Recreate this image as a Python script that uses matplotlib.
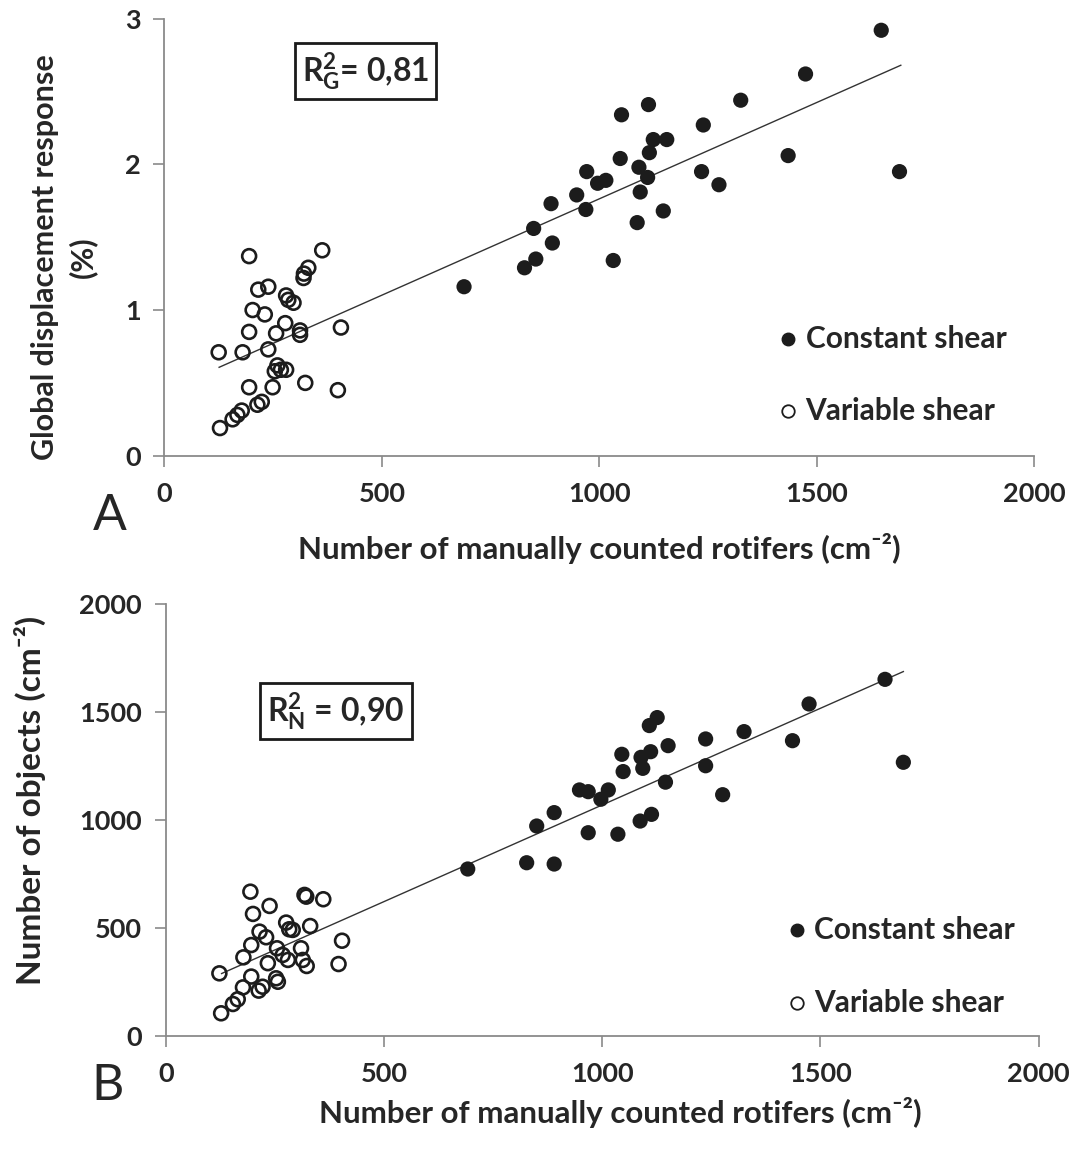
import matplotlib
matplotlib.use("Agg")
import matplotlib.pyplot as plt

plt.rcParams['font.family'] = ['Lato', 'DejaVu Sans']
plt.rcParams['mathtext.fontset'] = 'custom'
plt.rcParams['mathtext.rm'] = 'Lato'
plt.rcParams['mathtext.bf'] = 'Lato:bold'
plt.rcParams['mathtext.it'] = 'Lato:italic'

# ---------------- Panel A data ----------------
a_const_x = [1648, 1474, 1325, 1113, 1051, 1239, 1155, 1124, 1115, 1048, 1434, 1091, 1111, 1235,
             971, 1015, 996, 1275, 1690, 948, 889, 1094, 969, 1147, 1087, 849, 892, 854, 1032, 828, 689]
a_const_y = [2.92, 2.62, 2.44, 2.41, 2.34, 2.27, 2.17, 2.17, 2.08, 2.04, 2.06, 1.98, 1.91, 1.95,
             1.95, 1.89, 1.87, 1.86, 1.95, 1.79, 1.73, 1.81, 1.69, 1.68, 1.60, 1.56, 1.46, 1.35, 1.34, 1.29, 1.16]
a_var_x = [195, 363, 331, 321, 320, 239, 216, 280, 285, 297, 203, 231, 278, 195, 257, 312, 312, 406,
           125, 180, 239, 260, 268, 280, 254, 324, 195, 249, 399, 224, 214, 178, 168, 157, 128]
a_var_y = [1.37, 1.41, 1.29, 1.25, 1.22, 1.16, 1.14, 1.10, 1.07, 1.05, 1.00, 0.97, 0.91, 0.85, 0.84, 0.86, 0.83, 0.88,
           0.71, 0.71, 0.73, 0.62, 0.59, 0.59, 0.58, 0.50, 0.47, 0.47, 0.45, 0.37, 0.35, 0.31, 0.28, 0.25, 0.19]
a_trend_x = [126, 1693]
a_trend_y = [0.607, 2.68]

# ---------------- Panel B data ----------------
b_const_x = [1648, 1474, 1325, 1436, 1690, 1237, 1237, 1126, 1108, 1151, 1111, 1089, 1093, 1045, 1048,
             1145, 1276, 948, 968, 1014, 997, 890, 850, 1113, 1087, 968, 1036, 692, 827, 890]
b_const_y = [1651, 1537, 1409, 1367, 1267, 1375, 1251, 1474, 1437, 1344, 1316, 1290, 1239, 1304, 1224,
             1175, 1117, 1139, 1131, 1139, 1096, 1034, 972, 1026, 995, 941, 934, 773, 802, 796]
b_var_x = [194, 318, 322, 361, 238, 200, 276, 283, 291, 331, 215, 230, 404, 196, 255, 310, 268, 178,
           280, 314, 323, 234, 396, 123, 196, 253, 257, 177, 222, 213, 165, 154, 127]
b_var_y = [668, 653, 645, 633, 602, 565, 525, 494, 491, 509, 483, 457, 441, 421, 406, 406, 375, 364,
           352, 352, 324, 337, 333, 290, 275, 267, 251, 225, 228, 210, 170, 148, 105]
b_trend_x = [128, 1690]
b_trend_y = [289, 1687]

a_xticks = [0, 500, 1000, 1500, 2000]
a_yticks = [0, 1, 2, 3]
b_xticks = [0, 500, 1000, 1500, 2000]
b_yticks = [0, 500, 1000, 1500, 2000]

TXT = '#262626'
SPINE = '#8a8a8a'
DOT = '#1c1c1c'

fig = plt.figure(figsize=(10.76, 11.57), dpi=100)
axA = fig.add_axes([0.1527, 0.6061, 0.8086, 0.3778])
axB = fig.add_axes([0.1540, 0.1046, 0.8113, 0.3734])


def style(ax, xt, yt, ylim):
    ax.set_xlim(0, 2000)
    ax.set_ylim(*ylim)
    ax.set_xticks(xt)
    ax.set_yticks(yt)
    for s in ['top', 'right']:
        ax.spines[s].set_visible(False)
    for s in ['left', 'bottom']:
        ax.spines[s].set_color(SPINE)
        ax.spines[s].set_linewidth(1.3)
    ax.tick_params(axis='both', direction='out', length=8, width=1.2, color=SPINE,
                   labelsize=19.5, labelcolor=TXT)
    ax.tick_params(axis='x', pad=11)
    ax.tick_params(axis='y', pad=9)
    for lab in ax.get_xticklabels() + ax.get_yticklabels():
        lab.set_fontweight('bold')


def panel(ax, cx, cy, vx, vy, tx, ty, lx, ly):
    ax.plot(tx, ty, color='#333333', lw=1.0, zorder=1)
    ax.scatter(vx, vy, s=100, facecolors='none', edgecolors=DOT, linewidths=1.9, zorder=2)
    ax.scatter(cx, cy, s=120, color=DOT, edgecolors='none', zorder=3)
    # legend
    ax.plot([lx], [ly[0]], 'o', ms=9, color=DOT, transform=ax.transAxes, clip_on=False)
    ax.plot([lx], [ly[1]], 'o', ms=9, mfc='white', mec=DOT, mew=1.3,
            transform=ax.transAxes, clip_on=False)
    ax.text(lx + 0.02, ly[0], 'Constant shear', transform=ax.transAxes, fontsize=21.5,
            fontweight='bold', color=TXT, va='center', ha='left')
    ax.text(lx + 0.02, ly[1], 'Variable shear', transform=ax.transAxes, fontsize=21.5,
            fontweight='bold', color=TXT, va='center', ha='left')


style(axA, a_xticks, a_yticks, (0, 3))
style(axB, b_xticks, b_yticks, (0, 2000))
panel(axA, a_const_x, a_const_y, a_var_x, a_var_y, a_trend_x, a_trend_y, 0.717, (0.267, 0.102))
panel(axB, b_const_x, b_const_y, b_var_x, b_var_y, b_trend_x, b_trend_y, 0.723, (0.245, 0.076))

box = dict(boxstyle='square,pad=0.22', fc='white', ec='#1a1a1a', lw=2)
axA.text(0.231, 0.880, r'$\mathbf{R^2_G}$= 0,81', transform=axA.transAxes, fontsize=23,
         fontweight='bold', color=TXT, ha='center', va='center', bbox=box)
axB.text(0.195, 0.752, r'$\mathbf{R^2_N}$ = 0,90', transform=axB.transAxes, fontsize=23,
         fontweight='bold', color=TXT, ha='center', va='center', bbox=box)

W, H = 1076, 1157
fig.text(64 / W, 1 - 257 / H, 'Global displacement response\n(%)', rotation=90, fontsize=22,
         fontweight='bold', color=TXT, ha='center', va='center', multialignment='center',
         linespacing=1.38)
fig.text(599 / W, 1 - 548 / H, 'Number of manually counted rotifers (cm⁻²)', fontsize=22.5,
         fontweight='bold', color=TXT, ha='center', va='center')
fig.text(30 / W, 1 - 800 / H, 'Number of objects (cm⁻²)', rotation=90, fontsize=24,
         fontweight='bold', color=TXT, ha='center', va='center')
fig.text(620 / W, 1 - 1113 / H, 'Number of manually counted rotifers (cm⁻²)', fontsize=22.5,
         fontweight='bold', color=TXT, ha='center', va='center')
fig.text(110 / W, 1 - 516 / H, 'A', fontsize=36, color=TXT, ha='center', va='center')
fig.text(108 / W, 1 - 1086 / H, 'B', fontsize=36, color=TXT, ha='center', va='center')

fig.savefig('out.png', dpi=100, facecolor='white')
